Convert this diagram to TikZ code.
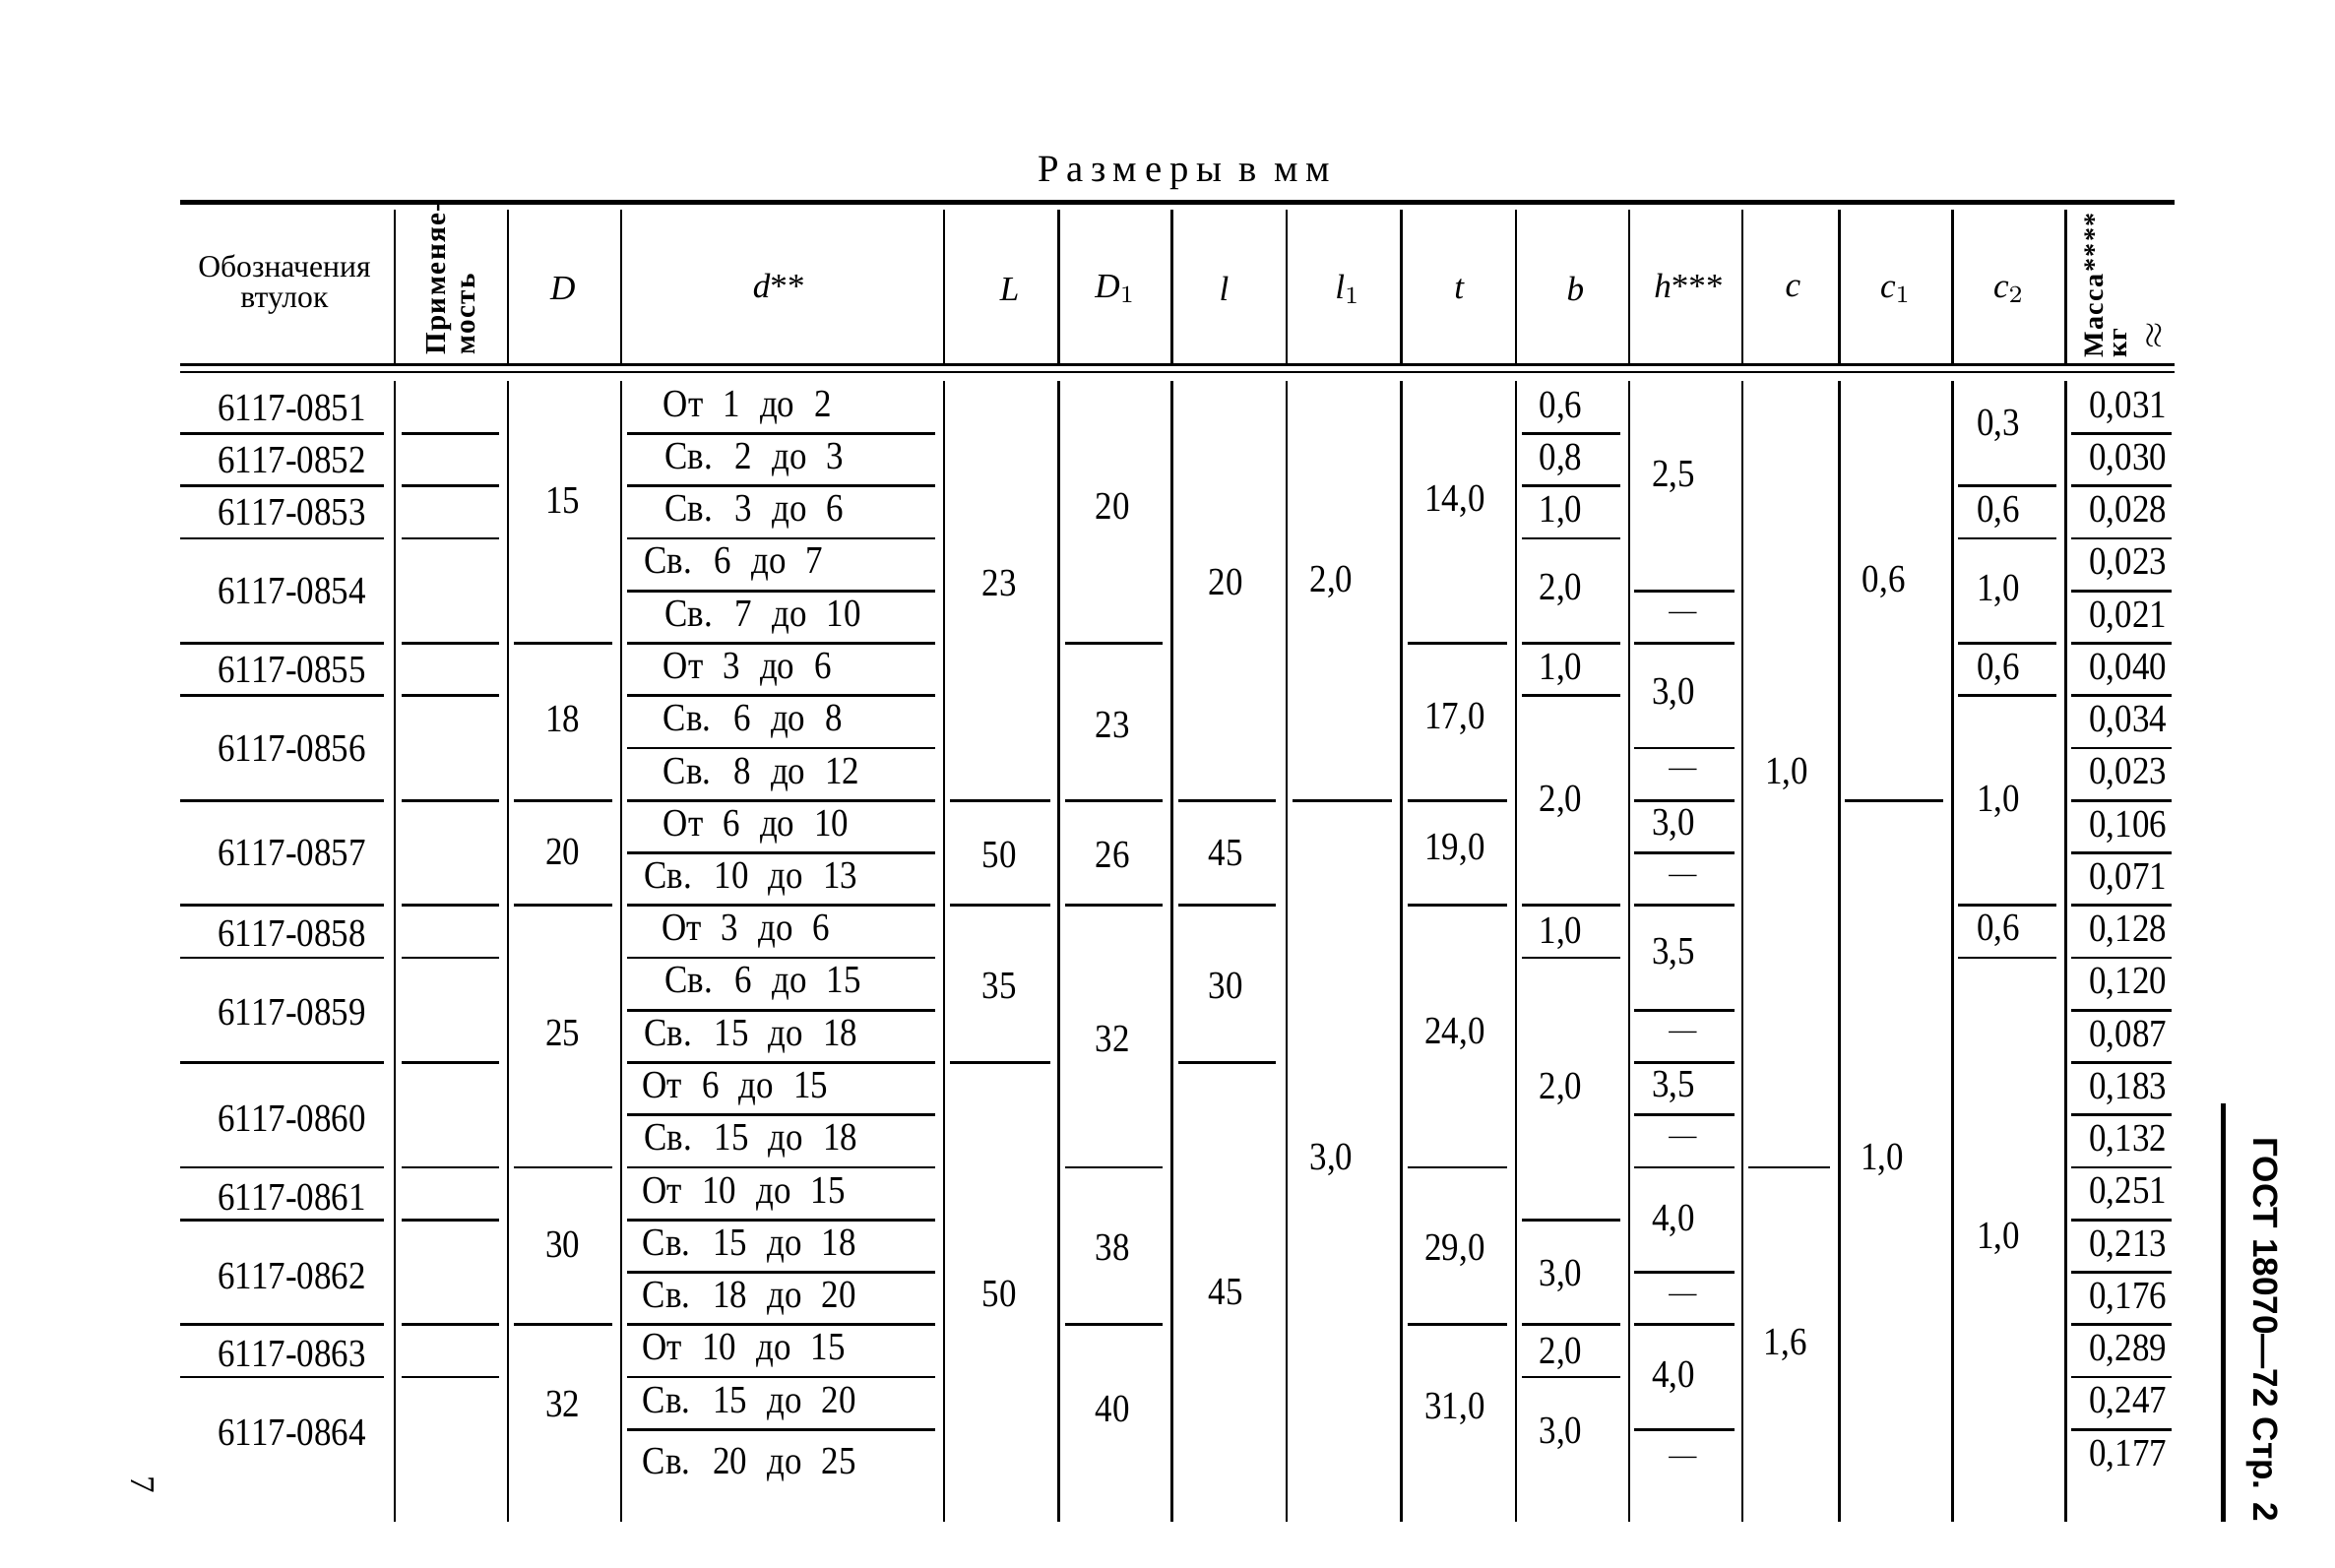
\documentclass[tikz,border=0pt]{standalone}
\usepackage{fontspec}
\setmainfont{Liberation Serif}
\newfontfamily\cellfont[FakeStretch=0.88, WordSpace=2.3]{Liberation Serif}
\newfontfamily\spacedfont[LetterSpace=20]{Liberation Serif}
\newfontfamily\rotfont[LetterSpace=5]{Liberation Serif}
\newfontfamily\gostfont{Liberation Sans}
\usetikzlibrary{calc}
\tikzset{
  rule/.style={line width=0.75pt},
  seprule/.style={line width=0.8pt},
  cell/.style={inner sep=0pt, font=\cellfont\fontsize{11.3}{13}\selectfont},
  headcell/.style={inner sep=0pt, font=\fontsize{10}{12}\selectfont},
  dashcell/.style={inner sep=0pt, font=\fontsize{8}{9}\selectfont},
}
% short rules inside one column, at row boundaries #3
\newcommand{\seps}[3]{%
  \foreach \i in {#3} \draw[seprule] (#1,{256+35.2*\i}) -- (#2,{256+35.2*\i});}

\begin{document}
\begin{tikzpicture}[x=0.015128cm, y=-0.015128cm]
\useasboundingbox (0,0) rectangle (1568,1053);
\fill[white] (0,0) rectangle (1568,1053);

\node[inner sep=0pt, font=\spacedfont\fontsize{11}{13}\selectfont] (title) at (795,116)
  {Размеры\hspace{0.45em}в\hspace{0.45em}мм};

% rules
\draw[line width=1.4pt] (121,136) -- (1460,136);
\draw[line width=1pt] (121,245) -- (1460,245);
\draw[line width=0.6pt] (121,250) -- (1460,250);
\foreach \x in {265,341,417,634,711,787,864,941,1018,1094,1170,1235,1311,1387} {
  \draw[rule] (\x,141) -- (\x,244);
  \draw[rule] (\x,256) -- (\x,1022);
}

% header
\node[inner sep=0pt, align=center, font=\fontsize{9}{9}\selectfont] (hdes) at (191,191) {Обозначения\\втулок};
\node[inner sep=0pt, rotate=90, anchor=west, align=left, font=\rotfont\bfseries\fontsize{8.3}{8.5}\selectfont] (happ) at (303,239) {Применяе-\\мость};
\node[headcell] (hD) at (378,194) {\textit{D}};
\node[headcell] (hd) at (523,192) {\textit{d}**};
\node[headcell] (hL) at (678,194) {\textit{L}};
\node[headcell] (hDa) at (749,194) {\textit{D}$_1$};
\node[headcell] (hl) at (822,194) {\textit{l}};
\node[headcell] (hla) at (905,194) {\textit{l}$_1$};
\node[headcell] (ht) at (980,194) {\textit{t}};
\node[headcell] (hb) at (1058,194) {\textit{b}};
\node[headcell] (hh) at (1134,192) {\textit{h}***};
\node[headcell] (hc) at (1204,194) {\textit{c}};
\node[headcell] (hca) at (1273,196) {\textit{c}$_1$};
\node[headcell] (hcb) at (1349,196) {\textit{c}$_2$};
\node[inner sep=0pt, rotate=90, anchor=west, align=left, font=\rotfont\bfseries\fontsize{8}{7}\selectfont] (hmass) at (1414,241) {Масса****\\кг};
\node[inner sep=0pt, rotate=90, font=\fontsize{10}{12}\selectfont] (happrox) at (1447,225) {$\approx$};

% designations
\foreach \n/\y in {0851/274, 0852/309, 0853/344, 0854/397, 0855/450, 0856/503, 0857/573,
    0858/627, 0859/680, 0860/751, 0861/804, 0862/857, 0863/909, 0864/962}
  \node[cell] (des\n) at (196,\y) {6117-\n};
\seps{121}{258}{1,2,3,5,6,8,10,11,13,15,16,18,19}
\seps{270}{335}{1,2,3,5,6,8,10,11,13,15,16,18,19}

% D
\foreach \v/\y [count=\k] in {15/336, 18/483, 20/572, 25/694, 30/836, 32/943}
  \node[cell] (D\k) at (378,\y) {\v};
\seps{345}{411}{5,8,10,15,18}

% d
\foreach \t/\x [count=\k from 0] in {От 1 до 2/445, Св. 2 до 3/446, Св. 3 до 6/446, Св. 6 до 7/432,
    Св. 7 до 10/446, От 3 до 6/445, Св. 6 до 8/445, Св. 8 до 12/445, От 6 до 10/445,
    Св. 10 до 13/432, От 3 до 6/444, Св. 6 до 15/446, Св. 15 до 18/432, От 6 до 15/431,
    Св. 15 до 18/432, От 10 до 15/431, Св. 15 до 18/431, Св. 18 до 20/431, От 10 до 15/431,
    Св. 15 до 20/431, Св. 20 до 25/431}
  \node[cell, anchor=west] (d\k) at (\x,{273.6+35.2*\k+(\k==20)*6}) {\t};
\seps{421}{628}{1,...,20}

% L
\foreach \v/\y [count=\k] in {23/392, 50/574, 35/662, 50/869}
  \node[cell] (L\k) at (671,\y) {\v};
\seps{638}{705}{8,10,13}

% D1
\foreach \v/\y [count=\k] in {20/340, 23/487, 26/574, 32/698, 38/838, 40/946}
  \node[cell] (Da\k) at (747,\y) {\v};
\seps{715}{781}{5,8,10,15,18}

% l
\foreach \v/\y [count=\k] in {20/391, 45/573, 30/662, 45/868}
  \node[cell] (l\k) at (823,\y) {\v};
\seps{791}{857}{8,10,13}

% l1
\foreach \v/\y [count=\k] in {2{,}0/391, 3{,}0/779}
  \node[cell] (la\k) at (894,\y) {\v};
\seps{868}{935}{8}

% t
\foreach \v/\y [count=\k] in {14{,}0/337, 17{,}0/483, 19{,}0/571, 24{,}0/694, 29{,}0/840, 31{,}0/946}
  \node[cell] (t\k) at (977,\y) {\v};
\seps{945}{1012}{5,8,10,15,18}

% b
\foreach \v/\y [count=\k] in {0{,}6/274, 0{,}8/309, 1{,}0/344, 2{,}0/396, 1{,}0/450, 2{,}0/538,
    1{,}0/627, 2{,}0/731, 3{,}0/857, 2{,}0/909, 3{,}0/963}
  \node[cell] (b\k) at (1048,\y) {\v};
\seps{1022}{1088}{1,2,3,5,6,10,11,16,18,19}

% h
\foreach \v/\y [count=\k] in {2{,}5/320, 3{,}0/466, 3{,}0/554, 3{,}5/641, 3{,}5/730, 4{,}0/820, 4{,}0/925}
  \node[cell] (h\k) at (1124,\y) {\v};
\foreach \y [count=\k] in {414, 519, 590, 695, 766, 872, 981}
  \node[dashcell] (hdash\k) at (1130,\y) {—};
\seps{1097}{1165}{4,5,7,8,9,10,12,13,14,15,17,18,20}

% c, c1
\node[cell] (c1) at (1200,520) {1,0};
\node[cell] (c2) at (1199,903) {1,6};
\seps{1174}{1229}{15}
\node[cell] (ca1) at (1265,391) {0,6};
\node[cell] (ca2) at (1264,779) {1,0};
\seps{1239}{1305}{8}

% c2
\foreach \v/\y [count=\k] in {0{,}3/286, 0{,}6/344, 1{,}0/397, 0{,}6/450, 1{,}0/538, 0{,}6/625, 1{,}0/832}
  \node[cell] (cb\k) at (1342,\y) {\v};
\seps{1315}{1381}{2,3,5,6,10,11}

% mass
\foreach \v [count=\k from 0] in {031, 030, 028, 023, 021, 040, 034, 023, 106, 071, 128,
    120, 087, 183, 132, 251, 213, 176, 289, 247, 177}
  \node[cell] (m\k) at (1429,{273.6+35.2*\k}) {0,\v};
\seps{1391}{1458}{1,...,20}

% side mark
\draw[line width=1.4pt] (1493,741) -- (1493,1022);
\node[inner sep=0pt, rotate=-90, font=\gostfont\bfseries\fontsize{10}{12}\selectfont] (gost) at (1519,893) {ГОСТ 18070—72 Стр. 2};
\node[inner sep=0pt, rotate=-90, font=\fontsize{10}{12}\selectfont] (pgnum) at (96,997) {7};
\end{tikzpicture}
\end{document}
